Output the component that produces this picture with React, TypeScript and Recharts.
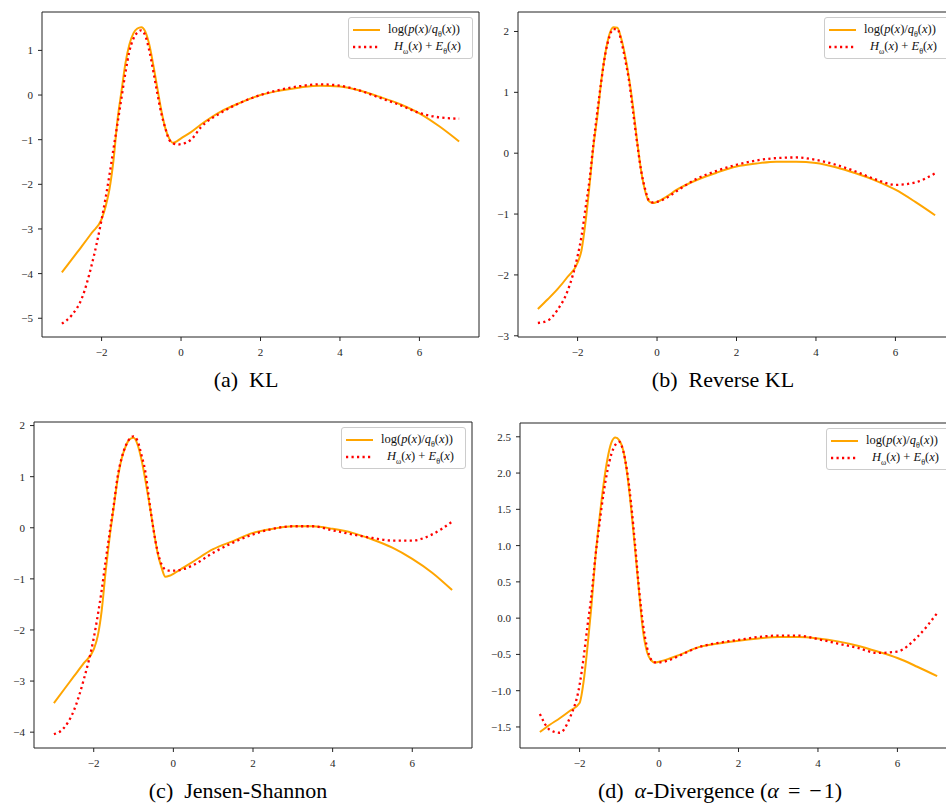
import React from 'react';
import { LineChart, Line, XAxis, YAxis, ReferenceArea, Legend } from 'recharts';

// shared x grid of the four panels
const xValues = [
  -3, -2.75, -2.5, -2.25, -2, -1.9, -1.8, -1.7, -1.6, -1.5, -1.4, -1.3, -1.2, -1.1, -1, -0.9, -0.8, -0.7,
  -0.6, -0.5, -0.4, -0.3, -0.2, -0.1, 0, 0.25, 0.5, 1, 1.5, 2, 2.5, 3, 3.5, 4, 4.5, 5, 5.5, 6, 6.5, 7
];

// (a) KL
const klLogRatio = [
  -3.97, -3.68, -3.39, -3.09, -2.78, -2.5, -2.1, -1.46, -0.56, 0.08, 0.71, 1.13, 1.38, 1.49, 1.52, 1.42, 1.13, 0.68,
  0.17, -0.33, -0.73, -0.97, -1.07, -1.03, -0.97, -0.83, -0.66, -0.37, -0.17, 0.0, 0.1, 0.17, 0.21, 0.19, 0.1, -0.04,
  -0.2, -0.41, -0.7, -1.04
];
const klEstimate = [
  -5.12, -4.93, -4.56, -3.81, -2.79, -2.31, -1.78, -1.2, -0.64, -0.07, 0.5, 0.98, 1.26, 1.4, 1.45, 1.33, 1.0, 0.54,
  0.05, -0.4, -0.73, -1.0, -1.08, -1.11, -1.1, -1.0, -0.72, -0.4, -0.17, 0.0, 0.12, 0.2, 0.24, 0.21, 0.1, -0.06,
  -0.22, -0.4, -0.5, -0.53
];

// (b) Reverse KL
const rklLogRatio = [
  -2.56, -2.4, -2.23, -2.03, -1.8, -1.59, -1.13, -0.53, 0.12, 0.62, 1.21, 1.65, 1.95, 2.07, 2.06, 1.88, 1.59, 1.21,
  0.74, 0.19, -0.29, -0.62, -0.79, -0.82, -0.8, -0.71, -0.6, -0.44, -0.32, -0.22, -0.17, -0.14, -0.14, -0.16, -0.23,
  -0.33, -0.45, -0.6, -0.8, -1.02
];
const rklEstimate = [
  -2.79, -2.75, -2.57, -2.26, -1.69, -1.36, -0.9, -0.44, 0.16, 0.7, 1.2, 1.64, 1.91, 2.04, 2.04, 1.84, 1.53, 1.17,
  0.66, 0.16, -0.29, -0.59, -0.78, -0.81, -0.8, -0.73, -0.62, -0.42, -0.29, -0.19, -0.12, -0.08, -0.07, -0.11, -0.19,
  -0.3, -0.43, -0.52, -0.48, -0.33
];

// (c) Jensen-Shannon
const jsLogRatio = [
  -3.43, -3.17, -2.91, -2.65, -2.38, -2.12, -1.62, -0.85, -0.18, 0.39, 0.95, 1.35, 1.59, 1.73, 1.76, 1.63, 1.33, 0.92,
  0.46, -0.02, -0.48, -0.77, -0.96, -0.94, -0.9, -0.78, -0.66, -0.42, -0.26, -0.1, -0.02, 0.03, 0.03, -0.02, -0.1,
  -0.23, -0.39, -0.61, -0.88, -1.22
];
const jsEstimate = [
  -4.04, -3.92, -3.58, -2.97, -2.16, -1.72, -1.22, -0.64, -0.1, 0.43, 1.0, 1.36, 1.6, 1.74, 1.79, 1.7, 1.42, 1.08,
  0.5, -0.03, -0.45, -0.71, -0.82, -0.84, -0.84, -0.81, -0.73, -0.49, -0.29, -0.13, -0.02, 0.03, 0.03, -0.05, -0.13,
  -0.2, -0.25, -0.25, -0.13, 0.12
];

// (d) alpha-divergence
const adLogRatio = [
  -1.57, -1.47, -1.38, -1.28, -1.17, -0.88, -0.39, 0.18, 0.85, 1.37, 1.83, 2.19, 2.42, 2.49, 2.45, 2.31, 1.98, 1.5,
  0.93, 0.34, -0.19, -0.47, -0.58, -0.61, -0.6, -0.56, -0.51, -0.4, -0.35, -0.31, -0.28, -0.26, -0.26, -0.28, -0.32,
  -0.38, -0.46, -0.55, -0.67, -0.8
];
const adEstimate = [
  -1.32, -1.54, -1.58, -1.38, -0.92, -0.55, -0.1, 0.32, 0.86, 1.3, 1.71, 2.03, 2.26, 2.39, 2.43, 2.3, 2.01, 1.56,
  0.99, 0.38, -0.1, -0.41, -0.57, -0.61, -0.61, -0.58, -0.52, -0.4, -0.34, -0.3, -0.26, -0.24, -0.24, -0.29, -0.35,
  -0.41, -0.48, -0.46, -0.26, 0.07
];

const xTicks = [-2, 0, 2, 4, 6];
const klTicks = [-5, -4, -3, -2, -1, 0, 1];
const rklTicks = [-3, -2, -1, 0, 1, 2];
const jsTicks = [-4, -3, -2, -1, 0, 1, 2];
const adTicks = [-1.5, -1, -0.5, 0, 0.5, 1, 1.5, 2, 2.5];

const ORANGE = '#ffa500';
const RED = '#ff0000';
const SERIF = '"Liberation Serif", "Times New Roman", serif';

const toRows = (logRatio, estimate) =>
  xValues.map((x, i) => ({ x, logRatio: logRatio[i], estimate: estimate[i] }));

const minus = (s) => String(s).replace('-', '\u2212');
const intFmt = (v) => minus(v);
const oneDec = (v) => minus(Number(v).toFixed(1));

const tickStyle = { fontSize: 11, fontFamily: SERIF, fill: '#262626' };
const subStyle = { fontSize: 8, lineHeight: 0 };

const LegendBox = () => (
  <div
    style={{
      boxSizing: 'border-box',
      width: 125,
      background: 'rgba(255,255,255,0.85)',
      border: '1px solid #cccccc',
      borderRadius: 3,
      padding: '3px 4px 3px 4px',
      fontFamily: SERIF,
      fontSize: 12.5,
      color: '#111',
      whiteSpace: 'nowrap'
    }}
  >
    <div style={{ display: 'flex', alignItems: 'center', height: 17 }}>
      <svg width={27} height={4} style={{ marginRight: 8, flexShrink: 0 }}>
        <line x1={0} y1={2} x2={27} y2={2} stroke={ORANGE} strokeWidth={2} />
      </svg>
      <span>
        log(<i>p</i>(<i>x</i>)/<i>q</i>
        <sub style={subStyle}>θ</sub>(<i>x</i>))
      </span>
    </div>
    <div style={{ display: 'flex', alignItems: 'center', height: 17 }}>
      <svg width={27} height={4} style={{ marginRight: 8, flexShrink: 0 }}>
        <line x1={0} y1={2} x2={27} y2={2} stroke={RED} strokeWidth={2.3} strokeDasharray="2.2 3.3" />
      </svg>
      <span style={{ marginLeft: 6 }}>
        <i>H</i>
        <sub style={subStyle}>ω</sub>(<i>x</i>) + <i>E</i>
        <sub style={subStyle}>θ</sub>(<i>x</i>)
      </span>
    </div>
  </div>
);

const Panel = ({ left, top, yWidth, plotW, plotH, yDomain, yTicks, fmt, data }) => (
  <div style={{ position: 'absolute', left, top }}>
    <LineChart
      width={yWidth + plotW + 2}
      height={12 + plotH + 30}
      data={data}
      margin={{ top: 12, right: 2, bottom: 0, left: 0 }}
    >
      <XAxis
        dataKey="x"
        type="number"
        domain={[-3.5, 7.5]}
        ticks={xTicks}
        tickFormatter={intFmt}
        height={30}
        tickSize={4}
        tickMargin={7}
        axisLine={false}
        tickLine={{ stroke: '#222' }}
        tick={tickStyle}
        allowDataOverflow
      />
      <YAxis
        type="number"
        domain={yDomain}
        ticks={yTicks}
        tickFormatter={fmt}
        width={yWidth}
        tickSize={4}
        tickMargin={5}
        axisLine={false}
        tickLine={{ stroke: '#222' }}
        tick={tickStyle}
        allowDataOverflow
      />
      <ReferenceArea
        x1={-3.5}
        x2={7.5}
        y1={yDomain[0]}
        y2={yDomain[1]}
        fill="none"
        stroke="#222"
        strokeWidth={1}
        fillOpacity={0}
      />
      <Line
        type="monotone"
        dataKey="logRatio"
        stroke={ORANGE}
        strokeWidth={2}
        dot={false}
        isAnimationActive={false}
      />
      <Line
        type="monotone"
        dataKey="estimate"
        stroke={RED}
        strokeWidth={2.3}
        strokeDasharray="2.2 3.3"
        dot={false}
        isAnimationActive={false}
      />
      {/* centre/middle keeps recharts from reserving room for the legend */}
      <Legend
        layout="horizontal"
        verticalAlign="middle"
        align="center"
        wrapperStyle={{ top: 17, right: 8, left: 'auto', width: 'auto', height: 'auto' }}
        content={<LegendBox />}
      />
    </LineChart>
  </div>
);

const Caption = ({ cx, top, label, children }) => (
  <div
    style={{
      position: 'absolute',
      left: cx - 200,
      top,
      width: 400,
      textAlign: 'center',
      fontFamily: SERIF,
      fontSize: 22,
      color: '#000',
      whiteSpace: 'nowrap'
    }}
  >
    {label}
    <span style={{ marginLeft: 11 }}>{children}</span>
  </div>
);

export default function App() {
  return (
    <div
      style={{
        position: 'absolute',
        left: 0,
        top: 0,
        width: 946,
        height: 803,
        overflow: 'hidden',
        background: '#fff'
      }}
    >
      <Panel left={0} top={0} yWidth={42} plotW={437} plotH={325} yDomain={[-5.42, 1.86]} yTicks={klTicks} fmt={intFmt} data={toRows(klLogRatio, klEstimate)} />
      <Panel left={476} top={0} yWidth={42} plotW={437} plotH={325} yDomain={[-3.02, 2.32]} yTicks={rklTicks} fmt={intFmt} data={toRows(rklLogRatio, rklEstimate)} />
      <Panel left={0} top={410} yWidth={34} plotW={438} plotH={326} yDomain={[-4.31, 2.07]} yTicks={jsTicks} fmt={intFmt} data={toRows(jsLogRatio, jsEstimate)} />
      <Panel left={478} top={411} yWidth={42} plotW={437} plotH={325} yDomain={[-1.79, 2.69]} yTicks={adTicks} fmt={oneDec} data={toRows(adLogRatio, adEstimate)} />

      <Caption cx={246} top={367} label="(a)">KL</Caption>
      <Caption cx={723} top={367} label="(b)">Reverse KL</Caption>
      <Caption cx={238} top={778} label="(c)">Jensen-Shannon</Caption>
      <Caption cx={720} top={778} label="(d)">
        <i>α</i>-Divergence (<i>α</i>
        <span style={{ margin: '0 9px' }}>=</span>
        <span style={{ marginRight: 2 }}>−</span>1)
      </Caption>
    </div>
  );
}
